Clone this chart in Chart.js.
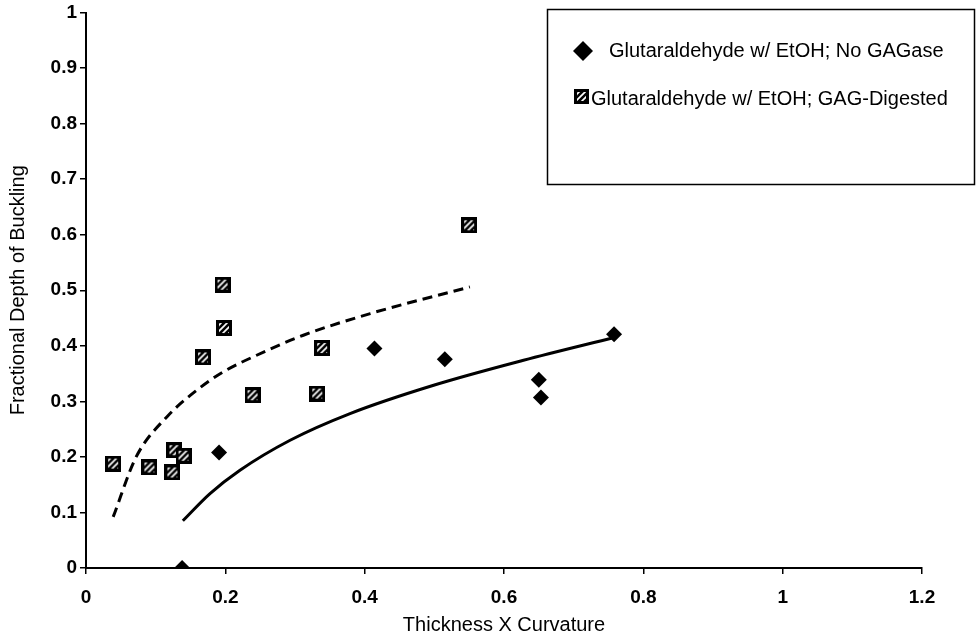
<!DOCTYPE html>
<html>
<head>
<meta charset="utf-8">
<script src="https://cdn.jsdelivr.net/npm/chart.js@4"></script>
<style>
  html, body { margin: 0; padding: 0; background: #fff; }
</style>
</head>
<body>
<canvas id="chart" width="977" height="640"></canvas>
<script>
const xTicks = [0, 0.2, 0.4, 0.6, 0.8, 1, 1.2]
const yTicks = [0, 0.1, 0.2, 0.3, 0.4, 0.5, 0.6, 0.7, 0.8, 0.9, 1]

const noGagaseLabel = 'Glutaraldehyde w/ EtOH; No GAGase'
const noGagaseX = [0.138, 0.191, 0.414, 0.515, 0.650, 0.653, 0.758]
const noGagaseY = [0.0, 0.208, 0.395, 0.376, 0.339, 0.307, 0.421]

const digestedLabel = 'Glutaraldehyde w/ EtOH; GAG-Digested'
const digestedX = [0.039, 0.091, 0.124, 0.127, 0.140, 0.168, 0.196, 0.198, 0.239, 0.332, 0.339, 0.550]
const digestedY = [0.188, 0.181, 0.172, 0.212, 0.202, 0.379, 0.510, 0.432, 0.311, 0.314, 0.396, 0.617]

// trend curves
const noGagaseFitX = [0.139, 0.178, 0.221, 0.293, 0.379, 0.499, 0.628, 0.758]
const noGagaseFitY = [0.085, 0.134, 0.176, 0.230, 0.278, 0.329, 0.374, 0.415]

const digestedFitX = [0.039, 0.072, 0.116, 0.159, 0.197, 0.245, 0.312, 0.408, 0.551]
const digestedFitY = [0.092, 0.200, 0.272, 0.320, 0.353, 0.383, 0.419, 0.458, 0.506]

const FONT = '"Liberation Sans", Arial, sans-serif'

const toPoints = (xs, ys) => xs.map((x, i) => ({x: x, y: ys[i]}))

function makeHatch(size) {
  const c = document.createElement('canvas')
  c.width = size
  c.height = size
  const g = c.getContext('2d')
  g.fillStyle = '#000'
  g.fillRect(0, 0, size, size)
  g.save()
  g.beginPath()
  g.rect(3, 3, size - 6, size - 6)
  g.clip()
  g.strokeStyle = '#fff'
  g.lineWidth = 1.7
  for (let k = -size + 2; k < size; k += 6) {
    g.beginPath()
    g.moveTo(k, size)
    g.lineTo(k + size, 0)
    g.stroke()
  }
  g.restore()
  return c
}

const hatch = makeHatch(16)
const hatchSmall = makeHatch(15)

const legendBox = {
  id: 'legendBox',
  afterDraw(chart) {
    const ctx = chart.ctx
    const sets = chart.data.datasets
    ctx.save()
    ctx.strokeStyle = '#000'
    ctx.lineWidth = 1.5
    ctx.strokeRect(547.5, 9.5, 427, 175)

    ctx.fillStyle = '#000'
    ctx.beginPath()
    ctx.moveTo(573, 51)
    ctx.lineTo(583, 41)
    ctx.lineTo(593, 51)
    ctx.lineTo(583, 61)
    ctx.closePath()
    ctx.fill()

    ctx.drawImage(hatchSmall, 574, 89)

    ctx.font = '20px ' + FONT
    ctx.textBaseline = 'alphabetic'
    ctx.fillText(sets[0].label, 609, 57)
    ctx.fillText(sets[1].label, 591, 105)
    ctx.restore()
  }
}

new Chart(document.getElementById('chart'), {
  type: 'scatter',
  data: {
    datasets: [
      {
        label: noGagaseLabel,
        data: toPoints(noGagaseX, noGagaseY),
        pointStyle: 'rectRot',
        pointRadius: 8,
        backgroundColor: '#000',
        borderWidth: 0,
        order: 0,
      },
      {
        label: digestedLabel,
        data: toPoints(digestedX, digestedY),
        pointStyle: hatch,
        pointRadius: 8,
        order: 0,
      },
      {
        label: 'fit no gagase',
        data: toPoints(noGagaseFitX, noGagaseFitY),
        showLine: true,
        pointRadius: 0,
        borderColor: '#000',
        borderWidth: 3,
        cubicInterpolationMode: 'monotone',
        order: 1,
      },
      {
        label: 'fit digested',
        data: toPoints(digestedFitX, digestedFitY),
        showLine: true,
        pointRadius: 0,
        borderColor: '#000',
        borderWidth: 3,
        borderDash: [10, 6],
        cubicInterpolationMode: 'monotone',
        order: 1,
      },
    ]
  },
  options: {
    responsive: false,
    animation: false,
    events: [],
    layout: {
      padding: {top: 11, right: 55, left: 0, bottom: 0}
    },
    plugins: {
      legend: {display: false},
      tooltip: {enabled: false},
    },
    scales: {
      x: {
        type: 'linear',
        min: 0,
        max: 1.2,
        afterBuildTicks: s => { s.ticks = xTicks.map(v => ({value: v})) },
        afterFit: s => { s.height = 72 },
        grid: {
          drawOnChartArea: false,
          drawTicks: true,
          tickLength: 6,
          color: '#000',
          lineWidth: 1.5,
        },
        border: {display: true, color: '#000', width: 2},
        ticks: {
          color: '#000',
          padding: 14,
          maxRotation: 0,
          font: {family: FONT, size: 19, weight: 'bold', lineHeight: 1},
          callback: v => String(v),
        },
        title: {
          display: true,
          text: 'Thickness X Curvature',
          color: '#000',
          padding: {top: 0, bottom: 3},
          font: {family: FONT, size: 20},
        },
      },
      y: {
        type: 'linear',
        min: 0,
        max: 1,
        afterBuildTicks: s => { s.ticks = yTicks.map(v => ({value: v})) },
        afterFit: s => { s.width = 86 },
        grid: {
          drawOnChartArea: false,
          drawTicks: true,
          tickLength: 6,
          color: '#000',
          lineWidth: 1.5,
        },
        border: {display: true, color: '#000', width: 2},
        ticks: {
          color: '#000',
          padding: 3,
          font: {family: FONT, size: 19, weight: 'bold', lineHeight: 1},
          callback: v => String(v),
        },
        title: {
          display: true,
          text: 'Fractional Depth of Buckling',
          color: '#000',
          padding: {top: 6, bottom: 0},
          font: {family: FONT, size: 20},
        },
      },
    },
  },
  plugins: [legendBox],
})
</script>
</body>
</html>
